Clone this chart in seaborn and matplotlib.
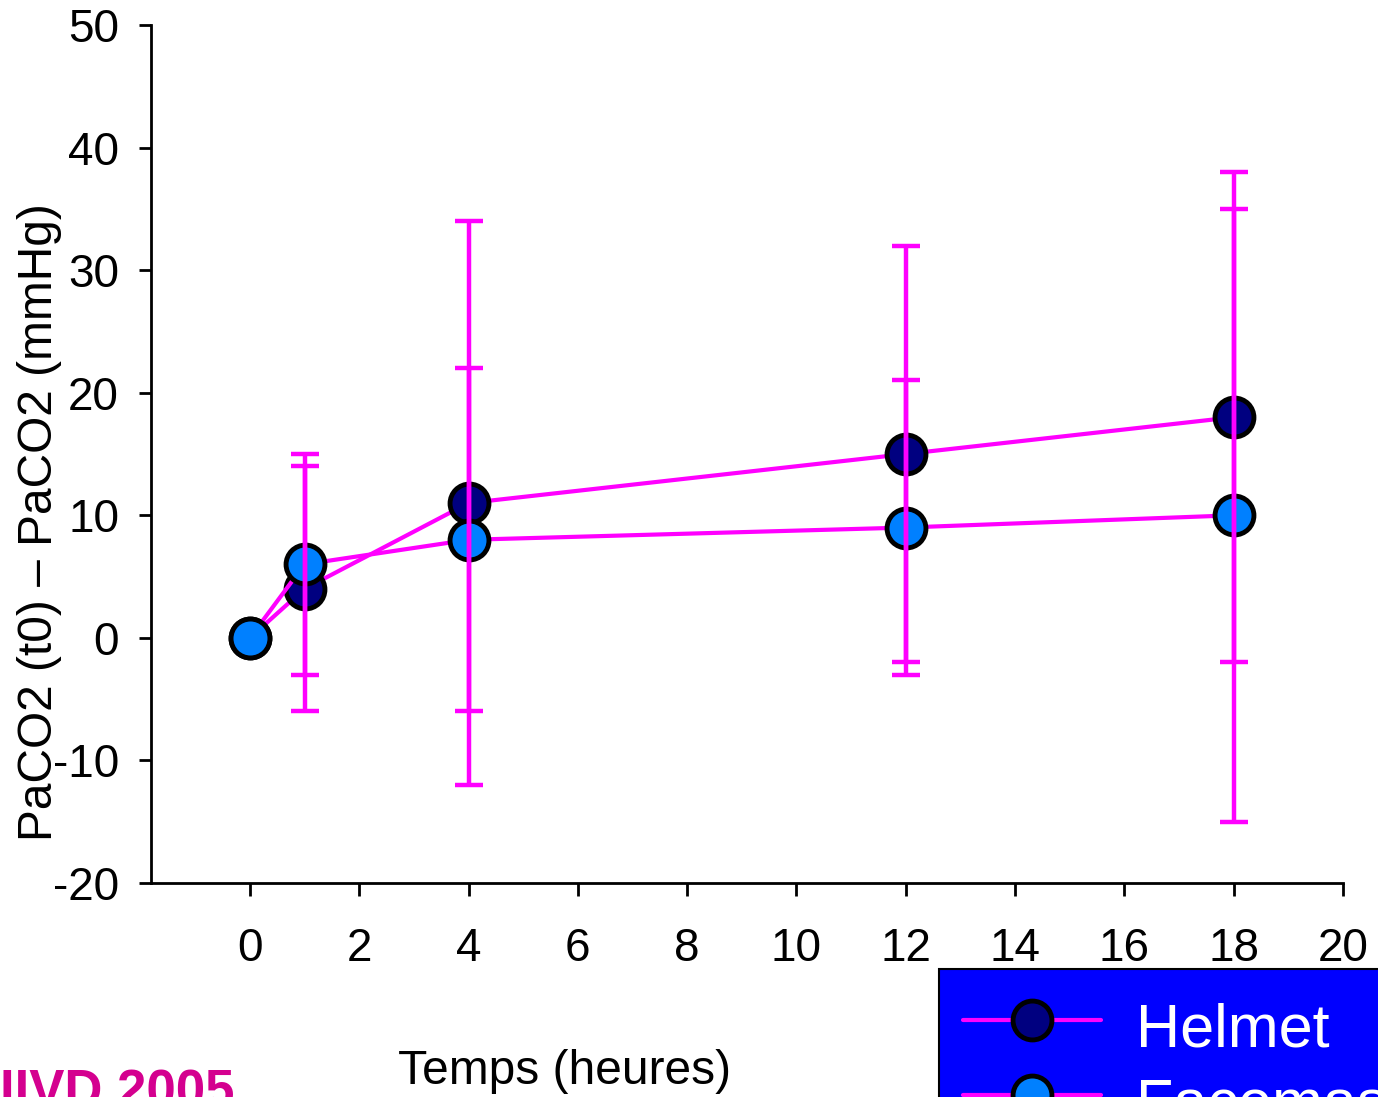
import matplotlib
matplotlib.use("Agg")
import matplotlib.pyplot as plt
import seaborn as sns
import pandas as pd
from matplotlib.lines import Line2D

hours = [0, 1, 4, 12, 18]
helmet_mean = [0, 4, 11, 15, 18]
helmet_sd = [0, 10, 23, 17, 20]
facemask_mean = [0, 6, 8, 9, 10]
facemask_sd = [0, 9, 14, 12, 25]
series_names = ["Helmet", "Facemask"]

df = pd.DataFrame({
    "hours": hours * 2,
    "delta": helmet_mean + facemask_mean,
    "sd": helmet_sd + facemask_sd,
    "group": [series_names[0]] * len(hours) + [series_names[1]] * len(hours),
})

sns.set_style("white")
plt.rcParams["font.family"] = ["Liberation Sans", "DejaVu Sans"]
plt.rcParams["axes.unicode_minus"] = False
plt.rcParams["text.color"] = "black"

line_col = "#ff00ff"
face_cols = {"Helmet": "#000080", "Facemask": "#0080ff"}

fig = plt.figure(figsize=(13.78, 10.97), dpi=100)
ax = fig.add_axes([151 / 1378, 1 - 883 / 1097, 1192 / 1378, 858 / 1097])


def draw_series(name):
    sub = df[df["group"] == name]
    sns.lineplot(data=sub, x="hours", y="delta", ax=ax, color=line_col, lw=3,
                 marker="o", markersize=28, markerfacecolor=face_cols[name],
                 markeredgecolor="black", markeredgewidth=3.5, zorder=3)


draw_series("Helmet")
for name in series_names:
    sub = df[(df["group"] == name) & (df["sd"] > 0)]
    ax.errorbar(sub["hours"], sub["delta"], yerr=sub["sd"], fmt="none",
                ecolor=line_col, elinewidth=3.2, capsize=10, capthick=3.2, zorder=3.5)
draw_series("Facemask")

ax.set_xlim(-1.81, 20)
ax.set_ylim(-20, 50)
ax.set_xticks(range(0, 21, 2))
ax.set_yticks(range(-20, 51, 10))
ax.set_xlabel("")
ax.set_ylabel("")
sns.despine(ax=ax)
for sp in ("left", "bottom"):
    ax.spines[sp].set_color("black")
    ax.spines[sp].set_linewidth(2)
ax.tick_params(axis="both", direction="out", length=9, width=2, colors="black",
               labelsize=33)
ax.tick_params(axis="y", pad=14, left=True)
ax.tick_params(axis="x", pad=23, bottom=True)

fig.text(40 / 1378, 1 - 522 / 1097, "PaCO2 (t0) \u2013 PaCO2 (mmHg)", rotation=90,
         ha="center", va="center", fontsize=34.5)
fig.text(565 / 1378, 1 - 1071 / 1097, "Temps (heures)", ha="center", va="center",
         fontsize=34.5)
fig.text(0, 1 - 1108 / 1097, "IIVD 2005", ha="left", va="baseline",
         fontsize=38, fontweight="bold", color="#d4008f")

handles = [Line2D([], [], color=line_col, lw=3, marker="o", markersize=28,
                  markerfacecolor=face_cols[n], markeredgecolor="black",
                  markeredgewidth=3.5) for n in series_names]
leg = fig.legend(handles, series_names, loc="upper left",
                 bbox_to_anchor=(939 / 1378, 1 - 969 / 1097), fontsize=44,
                 frameon=True, fancybox=False, facecolor="#0000ff",
                 edgecolor="black", framealpha=1, handlelength=2.25,
                 handleheight=1.25, labelspacing=0.15, borderpad=0.4,
                 handletextpad=0.57, borderaxespad=0)
leg.get_frame().set_linewidth(1.5)
for t in leg.get_texts():
    t.set_color("white")

fig.savefig("out.png", dpi=100)
